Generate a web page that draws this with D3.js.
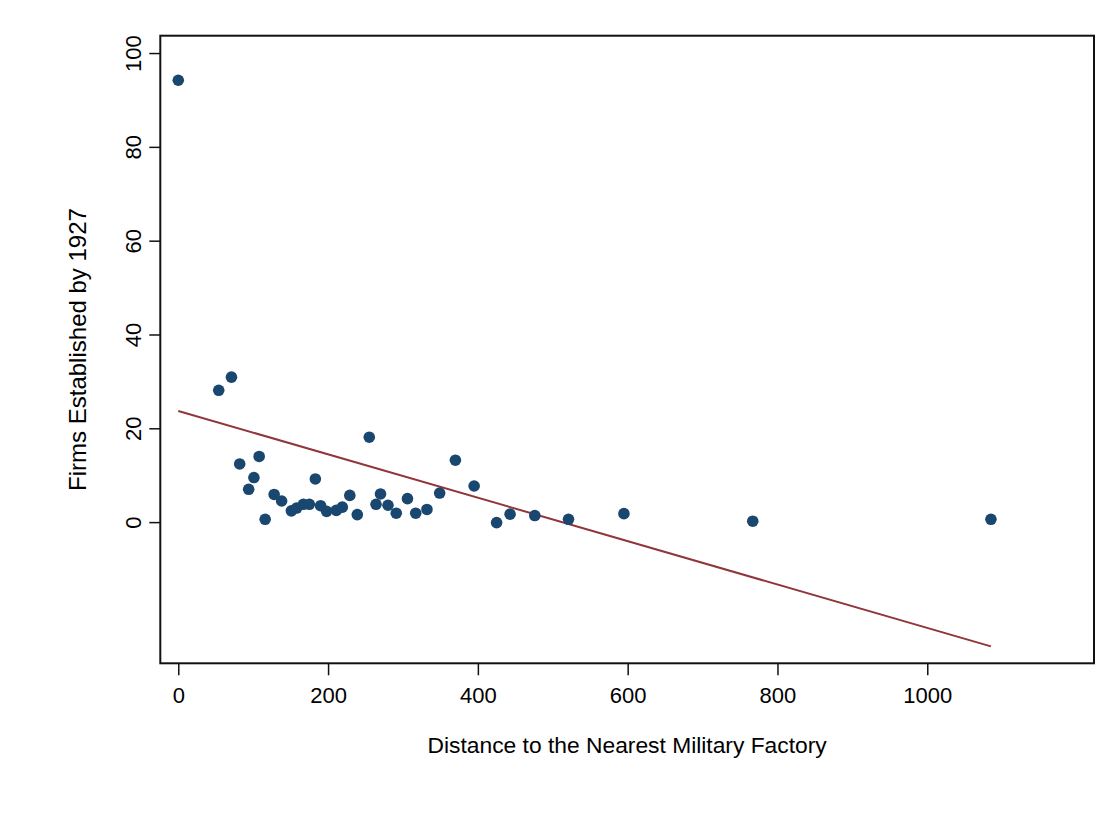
<!DOCTYPE html>
<html>
<head>
<meta charset="utf-8">
<script src="https://cdn.jsdelivr.net/npm/d3@7"></script>
<style>
  html, body { margin: 0; padding: 0; background: #fff; }
  svg { display: block; font-family: "Liberation Sans", Arial, sans-serif; }
</style>
</head>
<body>
<svg id="chart" width="1115" height="817"></svg>
<script>
// ---- data ----
const distance = [0, 54, 71, 82, 94, 101, 108, 116, 128, 138, 151, 158, 167, 175, 183, 190, 198, 211, 219, 229, 239, 255, 264, 270, 280, 291, 306, 317, 332, 349, 370, 395, 425, 443, 476, 521, 595, 767, 1085];
const firms =    [94.2, 28.1, 30.9, 12.4, 7.0, 9.5, 14.0, 0.6, 5.9, 4.5, 2.4, 3.0, 3.8, 3.8, 9.2, 3.5, 2.3, 2.5, 3.2, 5.7, 1.6, 18.1, 3.8, 6.0, 3.6, 1.9, 5.0, 1.9, 2.7, 6.2, 13.2, 7.7, -0.1, 1.7, 1.4, 0.6, 1.8, 0.2, 0.6];
const fitX = [0, 1085];
const fitY = [23.7, -26.5];
const xTicks = [0, 200, 400, 600, 800, 1000];
const yTicks = [0, 20, 40, 60, 80, 100];
const xTitle = "Distance to the Nearest Military Factory";
const yTitle = "Firms Established by 1927";

// ---- layout ----
const frame = { left: 160.3, right: 1094, top: 35.7, bottom: 663.3 };
const xDomain = [-24.0, 1222.6];
const yDomain = [-30.1, 103.7];
const dotColor = "#1a476f";
const lineColor = "#90353b";
const tickFont = 22;

const svg = d3.select("#chart");
const x = d3.scaleLinear().domain(xDomain).range([frame.left, frame.right]);
const y = d3.scaleLinear().domain(yDomain).range([frame.bottom, frame.top]);

// frame
svg.append("rect")
  .attr("x", frame.left).attr("y", frame.top)
  .attr("width", frame.right - frame.left)
  .attr("height", frame.bottom - frame.top)
  .attr("fill", "none").attr("stroke", "#111").attr("stroke-width", 2);

// x axis
const xAxis = d3.axisBottom(x).tickValues(xTicks).tickSize(12).tickPadding(12).tickFormat(d3.format("d"));
const gx = svg.append("g").attr("transform", `translate(0,${frame.bottom})`).call(xAxis);
gx.select(".domain").remove();
gx.selectAll(".tick line").attr("stroke", "#111").attr("stroke-width", 1.5);
gx.selectAll(".tick text").attr("font-size", tickFont).attr("fill", "#000")
  .attr("font-family", '"Liberation Sans", Arial, sans-serif');

// y axis
const yAxis = d3.axisLeft(y).tickValues(yTicks).tickSize(11).tickPadding(8).tickFormat(d3.format("d"));
const gy = svg.append("g").attr("transform", `translate(${frame.left},0)`).call(yAxis);
gy.select(".domain").remove();
gy.selectAll(".tick line").attr("stroke", "#111").attr("stroke-width", 1.5);
gy.selectAll(".tick text")
  .attr("font-size", tickFont).attr("fill", "#000")
  .attr("font-family", '"Liberation Sans", Arial, sans-serif')
  .attr("x", null).attr("dy", null)
  .attr("text-anchor", "middle")
  .attr("transform", "translate(-19,0) rotate(-90)");

// fitted line
svg.append("line")
  .attr("x1", x(fitX[0])).attr("y1", y(fitY[0]))
  .attr("x2", x(fitX[1])).attr("y2", y(fitY[1]))
  .attr("stroke", lineColor).attr("stroke-width", 2);

// points
svg.append("g").selectAll("circle")
  .data(distance.map((d, i) => ({ d, f: firms[i] })))
  .join("circle")
  .attr("cx", p => x(p.d)).attr("cy", p => y(p.f))
  .attr("r", 5.8).attr("fill", dotColor);

// titles
svg.append("text")
  .attr("x", (frame.left + frame.right) / 2).attr("y", 753)
  .attr("text-anchor", "middle").attr("font-size", 22.8).attr("fill", "#000")
  .text(xTitle);

svg.append("text")
  .attr("transform", `translate(85.5,${(frame.top + frame.bottom) / 2}) rotate(-90)`)
  .attr("text-anchor", "middle").attr("font-size", 24).attr("fill", "#000")
  .text(yTitle);
</script>
</body>
</html>
